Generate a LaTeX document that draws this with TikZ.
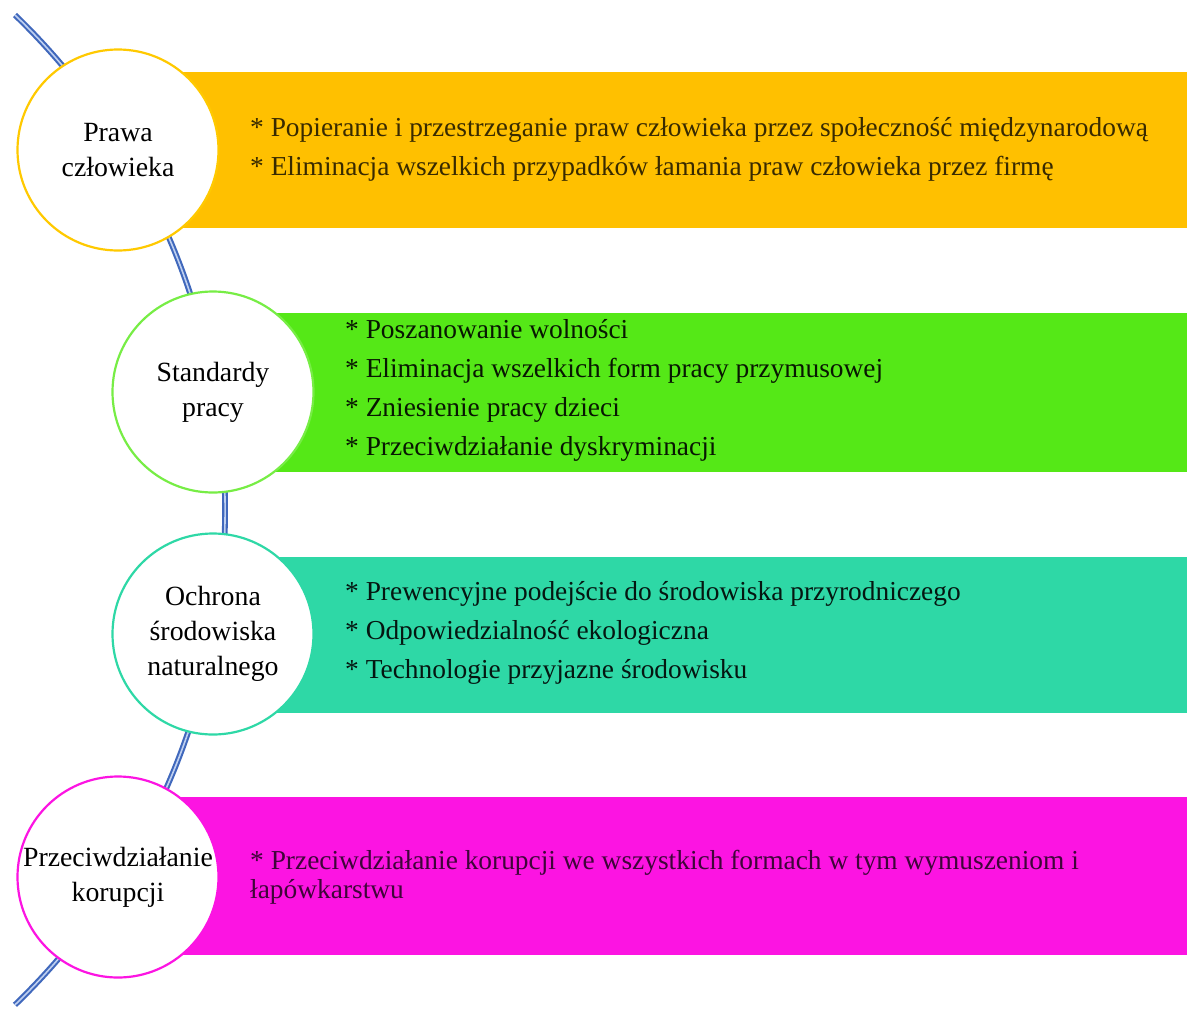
\documentclass[tikz,border=0pt]{standalone}
\usepackage{fontspec}
\setmainfont{Liberation Serif}
\definecolor{cOrange}{HTML}{FFC000}
\definecolor{cGreen}{HTML}{55E817}
\definecolor{cTeal}{HTML}{2ED8A6}
\definecolor{cMagenta}{HTML}{FC14E2}
\definecolor{spine}{HTML}{4068BC}
\definecolor{spineIn}{HTML}{BFD0F0}
\begin{document}
\begin{tikzpicture}[x=1pt,y=-1pt,
  band/.style={fill=#1, draw=none},
  topic/.style={circle, draw=#1, line width=2.2pt, fill=white, minimum size=201pt,
    inner sep=0pt, align=center, font=\fontsize{27.8}{35}\selectfont},
  items/.style={anchor=west, align=left, inner sep=0pt, text=#1,
    font=\fontsize{27.4}{39}\selectfont}
]
\useasboundingbox (0,0) rectangle (1187,1010);

% coloured bands behind the circles
\fill[band=cOrange]  (118,72)  rectangle (1187,228);
\fill[band=cGreen]   (212,313) rectangle (1187,472);
\fill[band=cTeal]    (213,557) rectangle (1187,713);
\fill[band=cMagenta] (118,797) rectangle (1187,955);

% curved spine
\draw[spine, line width=2.1pt, double=spineIn, double distance=1.6pt]
  (15,15) arc[start angle=-46, end angle=46, radius=688];

% topic circles
\node[topic=cOrange!85!yellow]   (t1) at (118,150) {Prawa\\człowieka};
\node[topic=cGreen!80!white]     (t2) at (213,392) {Standardy\\pracy};
\node[topic=cTeal]               (t3) at (213,634) {Ochrona\\środowiska\\naturalnego};
\node[topic=cMagenta]            (t4) at (118,877) {Przeciwdziałanie\\korupcji};

% item lists
\node[items=black!78!cOrange] (l1) at (250,149)
  {* Popieranie i przestrzeganie praw człowieka przez społeczność międzynarodową\\
   * Eliminacja wszelkich przypadków łamania praw człowieka przez firmę};
\node[items=black!90!cGreen] (l2) at (345,390)
  {* Poszanowanie wolności\\
   * Eliminacja wszelkich form pracy przymusowej\\
   * Zniesienie pracy dzieci\\
   * Przeciwdziałanie dyskryminacji};
\node[items=black!90!cTeal] (l3) at (345,633)
  {* Prewencyjne podejście do środowiska przyrodniczego\\
   * Odpowiedzialność ekologiczna\\
   * Technologie przyjazne środowisku};
\node[items=black!75!cMagenta, font=\fontsize{27.4}{29}\selectfont] (l4) at (250,877)
  {* Przeciwdziałanie korupcji we wszystkich formach w tym wymuszeniom i\\
   łapówkarstwu};
\end{tikzpicture}
\end{document}
